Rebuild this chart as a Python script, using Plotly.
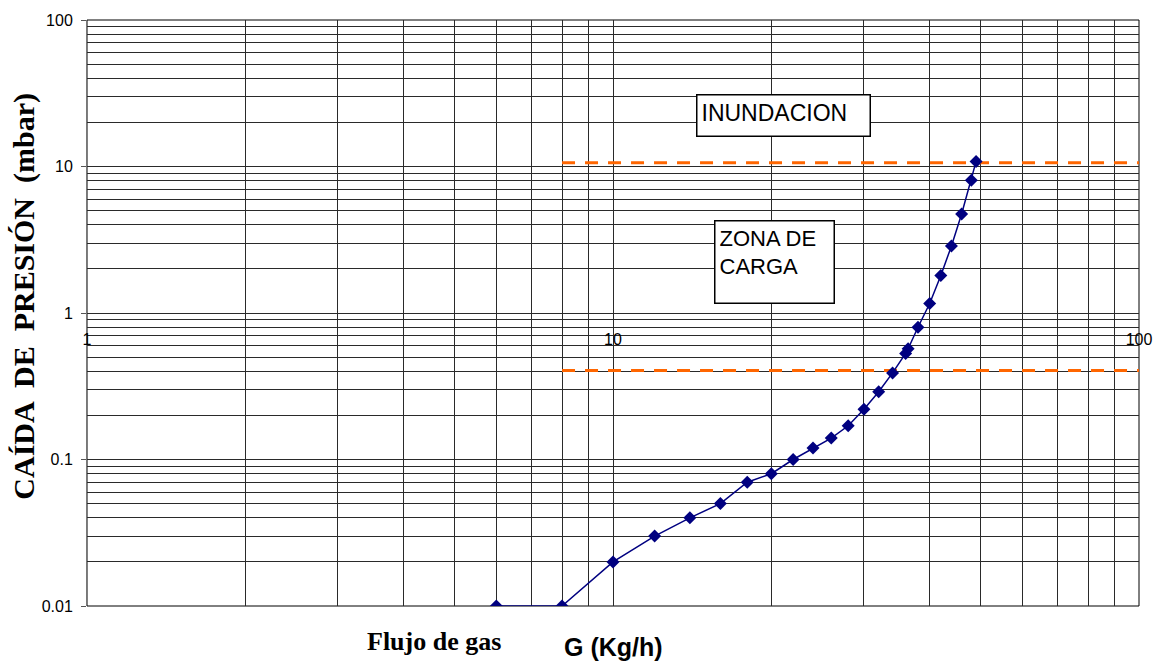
import plotly.graph_objects as go

# ---- data ----
flujo_gas = [6.0, 8.0, 10.0, 12.0, 14.0, 16.0, 18.0, 20.0, 22.0, 24.0, 26.0, 28.0,
             30.0, 32.0, 34.0, 36.0, 36.4, 38.0, 40.0, 42.0, 44.0, 46.0, 48.0, 49.0]
caida_presion = [0.01, 0.01, 0.02, 0.03, 0.04, 0.05, 0.07, 0.08, 0.10, 0.12, 0.14, 0.17,
                 0.22, 0.29, 0.39, 0.53, 0.57, 0.80, 1.16, 1.8, 2.87, 4.74, 8.06, 10.8]

limite_x = [8, 100]
limite_inundacion = [10.6, 10.6]
limite_carga = [0.405, 0.405]

x_tick_vals = [1, 10, 100]
x_tick_text = ["1", "10", "100"]
y_tick_vals = [0.01, 0.1, 1, 10, 100]
y_tick_text = ["0.01", "0.1", "1", "10", "100"]
mantisas = [2, 3, 4, 5, 6, 7, 8, 9]

x_minor = [m * d for d in [1, 10] for m in mantisas]
y_minor = [m * d for d in [0.01, 0.1, 1, 10] for m in mantisas]

GRID = "#2a2a2a"

fig = go.Figure()
fig.add_trace(go.Scatter(x=limite_x, y=limite_inundacion, mode="lines",
                         line=dict(color="#FF6600", width=3, dash="13px,10px"),
                         showlegend=False, hoverinfo="skip"))
fig.add_trace(go.Scatter(x=limite_x, y=limite_carga, mode="lines",
                         line=dict(color="#FF6600", width=3, dash="13px,10px"),
                         showlegend=False, hoverinfo="skip"))
fig.add_trace(go.Scatter(x=flujo_gas, y=caida_presion, mode="lines+markers",
                         line=dict(color="#000080", width=1.5),
                         marker=dict(symbol="diamond", size=10, color="#000080"),
                         showlegend=False))

fig.update_layout(
    width=1164, height=666,
    margin=dict(l=87, r=24, t=17, b=60),
    paper_bgcolor="white", plot_bgcolor="white",
    font=dict(family="Liberation Sans, Arial", color="black", size=16),
    xaxis=dict(type="log", range=[0, 2], anchor="free", position=0.5,
               tickvals=x_tick_vals, ticktext=x_tick_text, ticks="",
               ticklabelstandoff=15,
               showgrid=True, gridcolor=GRID, gridwidth=1,
               showline=False, zeroline=False,
               tickfont=dict(size=16),
               minor=dict(tickvals=x_minor, showgrid=True, gridcolor=GRID,
                          gridwidth=1, ticks="")),
    yaxis=dict(type="log", range=[-2, 2],
               tickvals=y_tick_vals, ticktext=y_tick_text,
               ticks="outside", ticklen=5, tickcolor="#555", ticklabelstandoff=5,
               showgrid=True, gridcolor=GRID, gridwidth=1,
               showline=True, linecolor="#777", linewidth=1,
               zeroline=False, tickfont=dict(size=16),
               minor=dict(tickvals=y_minor, showgrid=True, gridcolor=GRID,
                          gridwidth=1, ticks="")),
    shapes=[dict(type="rect", xref="paper", yref="paper", x0=0, x1=1, y0=0, y1=1,
                 line=dict(color="black", width=1), layer="below")],
    annotations=[
        dict(text="INUNDACION", xref="paper", yref="paper",
             x=0.5793, y=0.8743, xanchor="left", yanchor="top",
             showarrow=False, align="left", valign="top",
             width=164, height=32, borderpad=4, borderwidth=1.5,
             bordercolor="black", bgcolor="white",
             font=dict(family="Liberation Sans, Arial", size=23, color="black")),
        dict(text="ZONA DE<br>CARGA", xref="paper", yref="paper",
             x=0.5964, y=0.6587, xanchor="left", yanchor="top",
             showarrow=False, align="left", valign="top",
             width=110, height=73, borderpad=4, borderwidth=1.5,
             bordercolor="black", bgcolor="white",
             font=dict(family="Liberation Sans, Arial", size=22, color="black")),
        dict(text="<b>CAÍDA  DE  PRESIÓN  (mbar)</b>", xref="paper", yref="paper",
             x=-0.0598, y=0.528, xanchor="center", yanchor="middle",
             textangle=-90, showarrow=False,
             font=dict(family="Liberation Serif, Times New Roman", size=30, color="black")),
        dict(text="<b>Flujo de gas</b>", xref="paper", yref="paper",
             x=0.330, y=-0.060, xanchor="center", yanchor="middle",
             showarrow=False,
             font=dict(family="Liberation Serif, Times New Roman", size=26, color="black")),
        dict(text="<b>G (Kg/h)</b>", xref="paper", yref="paper",
             x=0.500, y=-0.070, xanchor="center", yanchor="middle",
             showarrow=False,
             font=dict(family="Liberation Sans, Arial", size=25, color="black")),
    ],
)

fig.write_html("out.html")
